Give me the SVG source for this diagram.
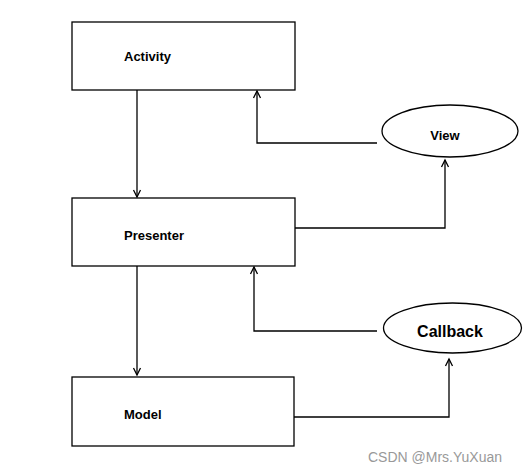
<svg xmlns="http://www.w3.org/2000/svg" width="527" height="471" viewBox="0 0 527 471">
<style>
.box{fill:#fff;stroke:#000;stroke-width:1.3}
.lbl{font-family:"Liberation Sans",Arial,sans-serif;font-weight:bold;font-size:13px;fill:#000}
.c{fill:none;stroke:#000;stroke-width:1.3}
</style>
<defs>
<marker id="ah" markerWidth="10" markerHeight="10" refX="8" refY="5" orient="auto" markerUnits="userSpaceOnUse">
<polyline points="1,1.5 8,5 1,8.5" fill="none" stroke="#000" stroke-width="1.3"/>
</marker>
</defs>
<rect width="527" height="471" fill="#fff"/>
<g id="connectors">
<line class="c" x1="137" y1="90" x2="137" y2="197" marker-end="url(#ah)"/>
<polyline class="c" points="377,143 257,143 257,91" marker-end="url(#ah)"/>
<polyline class="c" points="290,228 445,228 445,160" marker-end="url(#ah)"/>
<polyline class="c" points="377,331 254,331 254,267" marker-end="url(#ah)"/>
<line class="c" x1="137" y1="263" x2="137" y2="375" marker-end="url(#ah)"/>
<polyline class="c" points="291,417 449,417 449,359" marker-end="url(#ah)"/>
</g>
<g id="activity">
<rect class="box" x="72" y="22" width="223" height="68"/>
<text class="lbl" x="124" y="61">Activity</text>
</g>
<g id="presenter">
<rect class="box" x="72" y="198" width="223" height="68"/>
<text class="lbl" x="124" y="240">Presenter</text>
</g>
<g id="model">
<rect class="box" x="72" y="377" width="222" height="69"/>
<text class="lbl" x="124" y="419">Model</text>
</g>
<g id="view">
<ellipse class="box" cx="450" cy="131" rx="68" ry="26"/>
<text class="lbl" x="445" y="140" text-anchor="middle">View</text>
</g>
<g id="callback">
<ellipse class="box" cx="452.5" cy="328" rx="69" ry="25"/>
<text class="lbl" x="450" y="337" text-anchor="middle" style="font-size:16px">Callback</text>
</g>
<text x="368" y="462" style="font-family:'Liberation Sans',Arial,sans-serif;font-size:14px;fill:#999">CSDN @Mrs.YuXuan</text>
</svg>
